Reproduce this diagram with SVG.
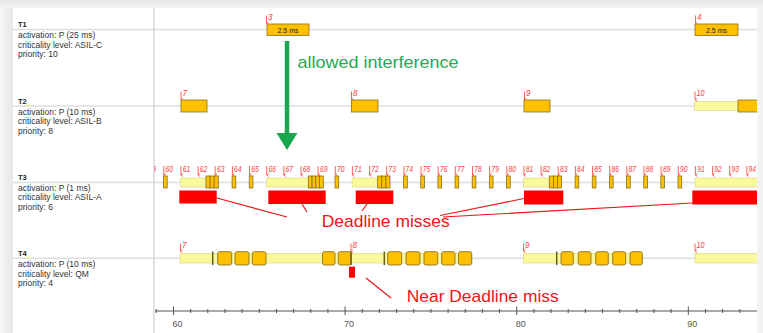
<svg xmlns="http://www.w3.org/2000/svg" width="763" height="333" viewBox="0 0 763 333">
  <style>
    .row{stroke:#dedede;stroke-width:1.5}
    .job{fill:#ffc000;stroke:#86711c;stroke-width:0.8}
    .seg{fill:#ffc000;stroke:#8a7420;stroke-width:0.9}
    .wait{fill:#fafa9c;stroke:#d6d27c;stroke-width:0.6}
    .tick{stroke:#6b5a1a;stroke-width:1.5}
    .miss{fill:#ff0000}
    .info{font-family:"Liberation Sans",Arial,sans-serif;font-size:8.5px;fill:#333}
    .tname{font-family:"Liberation Sans",Arial,sans-serif;font-size:7.5px;font-weight:bold;fill:#222}
    .num{font-family:"Liberation Sans",Arial,sans-serif;font-size:9.5px;font-style:italic;fill:#ff3c3c}
    .mk{stroke:#ff3c3c;stroke-width:0.8;fill:none}
    .dur{font-family:"Liberation Sans",Arial,sans-serif;font-size:7px;fill:#222}
    .axis{stroke:#555;stroke-width:1;fill:none}
    .axlbl{font-family:"Liberation Sans",Arial,sans-serif;font-size:9px;fill:#555}
    .note{font-family:"Liberation Sans",Arial,sans-serif;font-size:17px;fill:#f01414}
    .noteln{stroke:#f01414;stroke-width:1.2;fill:none}
  </style>
  <defs>
    <linearGradient id="topShade" x1="0" y1="0" x2="0" y2="1">
      <stop offset="0" stop-color="#e4e4e4"/>
      <stop offset="1" stop-color="#f4f4f4"/>
    </linearGradient>
    <linearGradient id="sideShade" x1="0" y1="0" x2="1" y2="0">
      <stop offset="0" stop-color="#f6f6f6"/>
      <stop offset="1" stop-color="#e6e6e6"/>
    </linearGradient>
    <clipPath id="chart">
      <rect x="154" y="8" width="603" height="325"/>
    </clipPath>
    <marker id="tip" markerWidth="4" markerHeight="4" refX="2" refY="3" orient="auto" markerUnits="userSpaceOnUse">
      <path d="M0.5,1 L2,3 L3.5,1" fill="none" stroke="#ff3c3c" stroke-width="0.8"/>
    </marker>
  </defs>

  <!-- window frame -->
  <rect x="0" y="0" width="763" height="333" fill="#f2f2f2"/>
  <rect x="0" y="0" width="763" height="8" fill="url(#topShade)"/>
  <rect x="0" y="8" width="13" height="325" fill="url(#sideShade)"/>
  <rect x="13" y="8" width="744" height="325" fill="#ffffff"/>

  <!-- row guide lines and panel divider -->
  <g id="grid">
    <line class="row" x1="13" y1="29.5" x2="757" y2="29.5"/>
    <line class="row" x1="13" y1="106" x2="757" y2="106"/>
    <line class="row" x1="13" y1="182.5" x2="757" y2="182.5"/>
    <line class="row" x1="13" y1="258.3" x2="757" y2="258.3"/>
    <line x1="154" y1="8" x2="154" y2="333" stroke="#d8d8d8" stroke-width="1.5"/>
  </g>

  <!-- task descriptions -->
  <g id="task-T1">
    <text class="tname" x="18" y="27">T1</text>
    <text class="info" x="18" y="38">activation: P (25 ms)</text>
    <text class="info" x="18" y="47.5">criticality level: ASIL-C</text>
    <text class="info" x="18" y="57">priority: 10</text>
  </g>
  <g id="task-T2">
    <text class="tname" x="18" y="103.5">T2</text>
    <text class="info" x="18" y="114.5">activation: P (10 ms)</text>
    <text class="info" x="18" y="124">criticality level: ASIL-B</text>
    <text class="info" x="18" y="133.5">priority: 8</text>
  </g>
  <g id="task-T3">
    <text class="tname" x="18" y="179.5">T3</text>
    <text class="info" x="18" y="190.5">activation: P (1 ms)</text>
    <text class="info" x="18" y="200">criticality level: ASIL-A</text>
    <text class="info" x="18" y="209.5">priority: 6</text>
  </g>
  <g id="task-T4">
    <text class="tname" x="18" y="256">T4</text>
    <text class="info" x="18" y="267">activation: P (10 ms)</text>
    <text class="info" x="18" y="276.5">criticality level: QM</text>
    <text class="info" x="18" y="286">priority: 4</text>
  </g>

  <g clip-path="url(#chart)">
    <!-- T1 jobs -->
    <g id="T1-jobs">
      <path class="mk" d="M266.5,15.5 V23.5" marker-end="url(#tip)"/>
      <text class="num" x="268" y="20" textLength="4.5" lengthAdjust="spacingAndGlyphs">3</text>
      <rect class="job" x="267" y="24" width="42" height="11.5"/>
      <text class="dur" x="288" y="32.5" text-anchor="middle">2.5 ms</text>
      <path class="mk" d="M695.5,15.5 V23.5" marker-end="url(#tip)"/>
      <text class="num" x="697" y="20" textLength="4.5" lengthAdjust="spacingAndGlyphs">4</text>
      <rect class="job" x="695" y="24" width="43" height="11.5"/>
      <text class="dur" x="716.5" y="32.5" text-anchor="middle">2.5 ms</text>
    </g>

    <!-- T2 jobs -->
    <g id="T2-jobs">
      <path class="mk" d="M181,91.5 V99.5" marker-end="url(#tip)"/>
      <text class="num" x="182.5" y="96" textLength="4.5" lengthAdjust="spacingAndGlyphs">7</text>
      <rect class="job" x="181" y="100" width="26" height="12"/>
      <path class="mk" d="M351.5,91.5 V99.5" marker-end="url(#tip)"/>
      <text class="num" x="353" y="96" textLength="4.5" lengthAdjust="spacingAndGlyphs">8</text>
      <rect class="job" x="351.5" y="100" width="26.5" height="12"/>
      <path class="mk" d="M524.5,91.5 V99.5" marker-end="url(#tip)"/>
      <text class="num" x="526" y="96" textLength="4.5" lengthAdjust="spacingAndGlyphs">9</text>
      <rect class="job" x="524" y="100" width="26" height="12"/>
      <path class="mk" d="M695,91.5 V99.5" marker-end="url(#tip)"/>
      <text class="num" x="696.5" y="96" textLength="8" lengthAdjust="spacingAndGlyphs">10</text>
      <rect class="wait" x="694.5" y="101.5" width="44" height="9"/>
      <rect class="job" x="738" y="100" width="30" height="12"/>
    </g>

    <!-- T3 job numbers -->
    <g id="T3-labels">
      <g class="mk">
        <path d="M146.6,166 V175" marker-end="url(#tip)"/>
        <path d="M163.8,166 V175" marker-end="url(#tip)"/>
        <path d="M180.9,166 V175" marker-end="url(#tip)"/>
        <path d="M198.1,166 V175" marker-end="url(#tip)"/>
        <path d="M215.2,166 V175" marker-end="url(#tip)"/>
        <path d="M232.4,166 V175" marker-end="url(#tip)"/>
        <path d="M249.5,166 V175" marker-end="url(#tip)"/>
        <path d="M266.7,166 V175" marker-end="url(#tip)"/>
        <path d="M283.8,166 V175" marker-end="url(#tip)"/>
        <path d="M301.0,166 V175" marker-end="url(#tip)"/>
        <path d="M318.1,166 V175" marker-end="url(#tip)"/>
        <path d="M335.3,166 V175" marker-end="url(#tip)"/>
        <path d="M352.4,166 V175" marker-end="url(#tip)"/>
        <path d="M369.6,166 V175" marker-end="url(#tip)"/>
        <path d="M386.7,166 V175" marker-end="url(#tip)"/>
        <path d="M403.9,166 V175" marker-end="url(#tip)"/>
        <path d="M421.0,166 V175" marker-end="url(#tip)"/>
        <path d="M438.2,166 V175" marker-end="url(#tip)"/>
        <path d="M455.3,166 V175" marker-end="url(#tip)"/>
        <path d="M472.5,166 V175" marker-end="url(#tip)"/>
        <path d="M489.6,166 V175" marker-end="url(#tip)"/>
        <path d="M506.8,166 V175" marker-end="url(#tip)"/>
        <path d="M523.9,166 V175" marker-end="url(#tip)"/>
        <path d="M541.1,166 V175" marker-end="url(#tip)"/>
        <path d="M558.2,166 V175" marker-end="url(#tip)"/>
        <path d="M575.4,166 V175" marker-end="url(#tip)"/>
        <path d="M592.5,166 V175" marker-end="url(#tip)"/>
        <path d="M609.7,166 V175" marker-end="url(#tip)"/>
        <path d="M626.8,166 V175" marker-end="url(#tip)"/>
        <path d="M644.0,166 V175" marker-end="url(#tip)"/>
        <path d="M661.1,166 V175" marker-end="url(#tip)"/>
        <path d="M678.3,166 V175" marker-end="url(#tip)"/>
        <path d="M695.4,166 V175" marker-end="url(#tip)"/>
        <path d="M712.6,166 V175" marker-end="url(#tip)"/>
        <path d="M729.7,166 V175" marker-end="url(#tip)"/>
        <path d="M746.9,166 V175" marker-end="url(#tip)"/>
      </g>
      <g class="num">
        <text x="148.4" y="171.5" textLength="7.5" lengthAdjust="spacingAndGlyphs">59</text>
        <text x="165.5" y="171.5" textLength="7.5" lengthAdjust="spacingAndGlyphs">60</text>
        <text x="182.7" y="171.5" textLength="7.5" lengthAdjust="spacingAndGlyphs">61</text>
        <text x="199.8" y="171.5" textLength="7.5" lengthAdjust="spacingAndGlyphs">62</text>
        <text x="217.0" y="171.5" textLength="7.5" lengthAdjust="spacingAndGlyphs">63</text>
        <text x="234.1" y="171.5" textLength="7.5" lengthAdjust="spacingAndGlyphs">64</text>
        <text x="251.3" y="171.5" textLength="7.5" lengthAdjust="spacingAndGlyphs">65</text>
        <text x="268.4" y="171.5" textLength="7.5" lengthAdjust="spacingAndGlyphs">66</text>
        <text x="285.6" y="171.5" textLength="7.5" lengthAdjust="spacingAndGlyphs">67</text>
        <text x="302.7" y="171.5" textLength="7.5" lengthAdjust="spacingAndGlyphs">68</text>
        <text x="319.9" y="171.5" textLength="7.5" lengthAdjust="spacingAndGlyphs">69</text>
        <text x="337.0" y="171.5" textLength="7.5" lengthAdjust="spacingAndGlyphs">70</text>
        <text x="354.2" y="171.5" textLength="7.5" lengthAdjust="spacingAndGlyphs">71</text>
        <text x="371.3" y="171.5" textLength="7.5" lengthAdjust="spacingAndGlyphs">72</text>
        <text x="388.5" y="171.5" textLength="7.5" lengthAdjust="spacingAndGlyphs">73</text>
        <text x="405.6" y="171.5" textLength="7.5" lengthAdjust="spacingAndGlyphs">74</text>
        <text x="422.8" y="171.5" textLength="7.5" lengthAdjust="spacingAndGlyphs">75</text>
        <text x="439.9" y="171.5" textLength="7.5" lengthAdjust="spacingAndGlyphs">76</text>
        <text x="457.1" y="171.5" textLength="7.5" lengthAdjust="spacingAndGlyphs">77</text>
        <text x="474.2" y="171.5" textLength="7.5" lengthAdjust="spacingAndGlyphs">78</text>
        <text x="491.4" y="171.5" textLength="7.5" lengthAdjust="spacingAndGlyphs">79</text>
        <text x="508.5" y="171.5" textLength="7.5" lengthAdjust="spacingAndGlyphs">80</text>
        <text x="525.7" y="171.5" textLength="7.5" lengthAdjust="spacingAndGlyphs">81</text>
        <text x="542.8" y="171.5" textLength="7.5" lengthAdjust="spacingAndGlyphs">82</text>
        <text x="560.0" y="171.5" textLength="7.5" lengthAdjust="spacingAndGlyphs">83</text>
        <text x="577.1" y="171.5" textLength="7.5" lengthAdjust="spacingAndGlyphs">84</text>
        <text x="594.3" y="171.5" textLength="7.5" lengthAdjust="spacingAndGlyphs">85</text>
        <text x="611.4" y="171.5" textLength="7.5" lengthAdjust="spacingAndGlyphs">86</text>
        <text x="628.6" y="171.5" textLength="7.5" lengthAdjust="spacingAndGlyphs">87</text>
        <text x="645.7" y="171.5" textLength="7.5" lengthAdjust="spacingAndGlyphs">88</text>
        <text x="662.9" y="171.5" textLength="7.5" lengthAdjust="spacingAndGlyphs">89</text>
        <text x="680.0" y="171.5" textLength="7.5" lengthAdjust="spacingAndGlyphs">90</text>
        <text x="697.2" y="171.5" textLength="7.5" lengthAdjust="spacingAndGlyphs">91</text>
        <text x="714.3" y="171.5" textLength="7.5" lengthAdjust="spacingAndGlyphs">92</text>
        <text x="731.5" y="171.5" textLength="7.5" lengthAdjust="spacingAndGlyphs">93</text>
        <text x="748.6" y="171.5" textLength="7.5" lengthAdjust="spacingAndGlyphs">94</text>
      </g>
    </g>

    <!-- T3 jobs -->
    <g id="T3-jobs">
      <rect class="wait" x="180.6" y="178" width="25.4" height="9"/>
      <rect class="wait" x="266.4" y="178" width="41.9" height="9"/>
      <rect class="wait" x="352.1" y="178" width="25.6" height="9"/>
      <rect class="wait" x="523.6" y="178" width="25.7" height="9"/>
      <rect class="wait" x="695.1" y="178" width="66" height="9"/>
      <g class="job">
        <rect x="163.5" y="176" width="3.7" height="12"/>
        <rect x="206" y="176" width="4.1" height="12"/>
        <rect x="210.1" y="176" width="4.1" height="12"/>
        <rect x="214.2" y="176" width="4.1" height="12"/>
        <rect x="232.1" y="176" width="3.7" height="12"/>
        <rect x="249.25" y="176" width="3.7" height="12"/>
        <rect x="308.3" y="176" width="3.75" height="12"/>
        <rect x="312.05" y="176" width="3.75" height="12"/>
        <rect x="315.8" y="176" width="3.75" height="12"/>
        <rect x="319.55" y="176" width="3.75" height="12"/>
        <rect x="335" y="176" width="3.7" height="12"/>
        <rect x="377.7" y="176" width="4.1" height="12"/>
        <rect x="381.8" y="176" width="4.1" height="12"/>
        <rect x="385.9" y="176" width="4.1" height="12"/>
        <rect x="403.6" y="176" width="3.7" height="12"/>
        <rect x="420.75" y="176" width="3.7" height="12"/>
        <rect x="437.9" y="176" width="3.7" height="12"/>
        <rect x="455.05" y="176" width="3.7" height="12"/>
        <rect x="472.2" y="176" width="3.7" height="12"/>
        <rect x="489.35" y="176" width="3.7" height="12"/>
        <rect x="506.5" y="176" width="3.7" height="12"/>
        <rect x="549.3" y="176" width="4.1" height="12"/>
        <rect x="553.4" y="176" width="4.1" height="12"/>
        <rect x="557.5" y="176" width="4.1" height="12"/>
        <rect x="575.1" y="176" width="3.7" height="12"/>
        <rect x="592.25" y="176" width="3.7" height="12"/>
        <rect x="609.4" y="176" width="3.7" height="12"/>
        <rect x="626.55" y="176" width="3.7" height="12"/>
        <rect x="643.7" y="176" width="3.7" height="12"/>
        <rect x="660.85" y="176" width="3.7" height="12"/>
        <rect x="678" y="176" width="3.7" height="12"/>
      </g>
      <g class="miss">
        <rect x="179.3" y="190.5" width="37.4" height="13"/>
        <rect x="268.3" y="190.5" width="57.4" height="13.5"/>
        <rect x="355.7" y="190.5" width="37.6" height="13.5"/>
        <rect x="524" y="190.5" width="39.3" height="14"/>
        <rect x="692.3" y="190.5" width="70" height="14"/>
      </g>
    </g>

    <!-- T4 jobs -->
    <g id="T4-jobs">
      <path class="mk" d="M180.5,243.5 V251" marker-end="url(#tip)"/>
      <text class="num" x="182" y="248" textLength="4.5" lengthAdjust="spacingAndGlyphs">7</text>
      <path class="mk" d="M351,243.5 V251" marker-end="url(#tip)"/>
      <text class="num" x="352.5" y="248" textLength="4.5" lengthAdjust="spacingAndGlyphs">8</text>
      <path class="mk" d="M523.5,243.5 V251" marker-end="url(#tip)"/>
      <text class="num" x="525" y="248" textLength="4.5" lengthAdjust="spacingAndGlyphs">9</text>
      <path class="mk" d="M695,243.5 V251" marker-end="url(#tip)"/>
      <text class="num" x="696.5" y="248" textLength="8" lengthAdjust="spacingAndGlyphs">10</text>

      <rect class="wait" x="180" y="253.5" width="292" height="9.5"/>
      <rect class="wait" x="523.3" y="253.5" width="119" height="9.5"/>
      <rect class="wait" x="695" y="253.5" width="66" height="9.5"/>
      <g class="seg">
        <rect x="217.7" y="251.7" width="14" height="13.3" rx="2"/>
        <rect x="235" y="251.7" width="14" height="13.3" rx="2"/>
        <rect x="252.3" y="251.7" width="13.7" height="13.3" rx="2"/>
        <rect x="322.5" y="251.7" width="12.5" height="13.3" rx="2"/>
        <rect x="338.3" y="251.7" width="12.7" height="13.3" rx="2"/>
        <rect x="387.7" y="251.7" width="14" height="13.3" rx="2"/>
        <rect x="406" y="251.7" width="14" height="13.3" rx="2"/>
        <rect x="424" y="251.7" width="13.7" height="13.3" rx="2"/>
        <rect x="441.7" y="251.7" width="13.3" height="13.3" rx="2"/>
        <rect x="458.5" y="251.7" width="13.2" height="13.3" rx="2"/>
        <rect x="561" y="251.7" width="12.3" height="13.3" rx="2"/>
        <rect x="578.3" y="251.7" width="12.7" height="13.3" rx="2"/>
        <rect x="595.7" y="251.7" width="12.6" height="13.3" rx="2"/>
        <rect x="612.7" y="251.7" width="13" height="13.3" rx="2"/>
        <rect x="630" y="251.7" width="12.3" height="13.3" rx="2"/>
      </g>
      <g class="tick">
        <line x1="212.7" y1="251.5" x2="212.7" y2="265"/>
        <line x1="351" y1="251.5" x2="351" y2="265"/>
        <line x1="384.3" y1="251.5" x2="384.3" y2="265"/>
        <line x1="556.7" y1="251.5" x2="556.7" y2="265"/>
      </g>
      <rect class="miss" x="349" y="266.7" width="6" height="11"/>
    </g>
  </g>

  <!-- time axis -->
  <g id="time-axis">
    <line class="axis" x1="155" y1="311" x2="757" y2="311"/>
    <path class="axis" d="M156.3,309 V313 M190.7,309 V313 M207.8,309 V313 M225,309 V313 M242.1,309 V313 M259.3,309 V313 M276.5,309 V313 M293.6,309 V313 M310.8,309 V313 M327.9,309 V313 M362.3,309 V313 M379.4,309 V313 M396.6,309 V313 M413.7,309 V313 M430.9,309 V313 M448.1,309 V313 M465.2,309 V313 M482.4,309 V313 M499.5,309 V313 M533.9,309 V313 M551,309 V313 M568.2,309 V313 M585.3,309 V313 M602.5,309 V313 M619.7,309 V313 M636.8,309 V313 M654,309 V313 M671.1,309 V313 M705.5,309 V313 M722.6,309 V313 M739.8,309 V313"/>
    <path class="axis" stroke-width="1.6" d="M173.5,306.5 V315 M345.1,306.5 V315 M516.7,306.5 V315 M688.3,306.5 V315"/>
    <text class="axlbl" x="172.5" y="327">60</text>
    <text class="axlbl" x="344" y="327">70</text>
    <text class="axlbl" x="515.7" y="327">80</text>
    <text class="axlbl" x="687.3" y="327">90</text>
  </g>

  <!-- annotations -->
  <g id="connectors">
    <line x1="287" y1="41" x2="287" y2="136" stroke="#1aa64e" stroke-width="4.5"/>
    <polygon points="276.5,133 297.5,133 287,150" fill="#1aa64e"/>
    <path class="noteln" d="M217,198 L287,217 M302,204 L307,212 M367,204 L362,211 M440,215.5 L524,198.5 M443,217 L692.3,203 M366,278 L391,298"/>
  </g>
  <g id="notes">
    <text x="297.5" y="67.5" font-family="Liberation Sans, Arial, sans-serif" font-size="17" fill="#22aa55" textLength="161" lengthAdjust="spacingAndGlyphs">allowed interference</text>
    <text class="note" x="321.7" y="226.5" textLength="128" lengthAdjust="spacingAndGlyphs">Deadline misses</text>
    <text class="note" x="406.7" y="302" textLength="152" lengthAdjust="spacingAndGlyphs">Near Deadline miss</text>
  </g>
</svg>
